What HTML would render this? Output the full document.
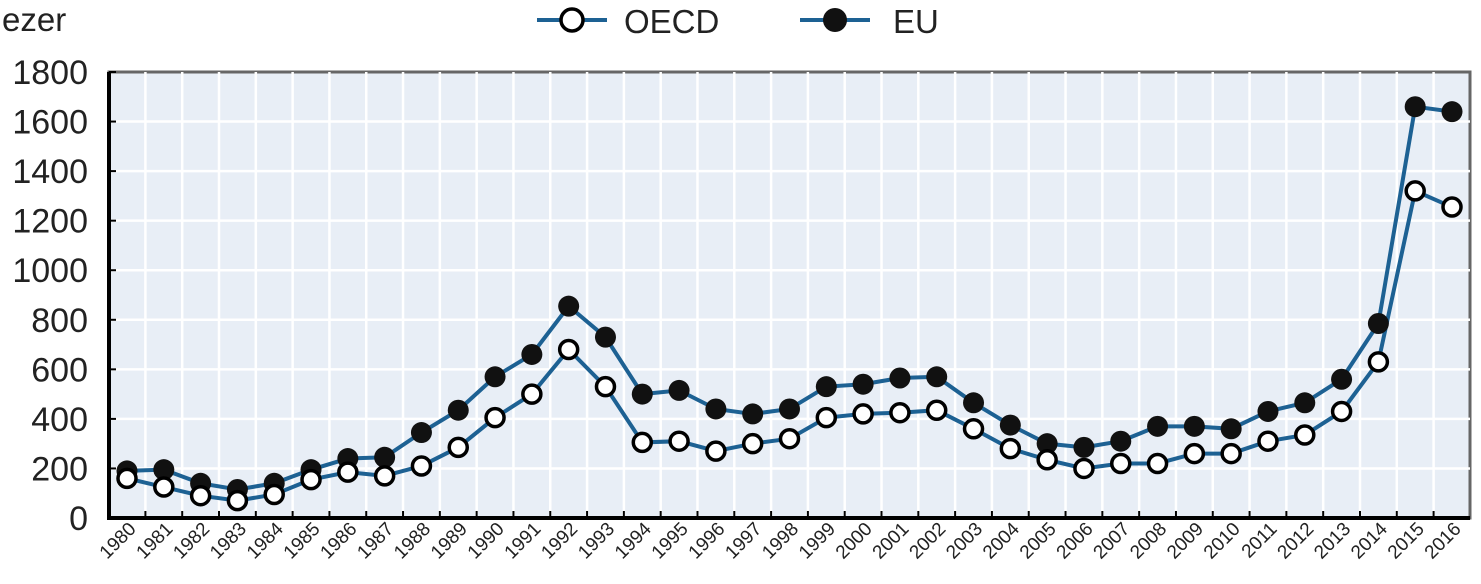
<!DOCTYPE html>
<html><head><meta charset="utf-8"><style>body{margin:0;background:#fff}svg{display:block}text{font-family:"Liberation Sans",sans-serif;fill:#222}</style></head>
<body>
<svg id="s" width="1481" height="584" xmlns="http://www.w3.org/2000/svg">
<text x="2" y="31" font-size="33">ezer</text>
<line x1="537" y1="20" x2="607" y2="20" stroke="#1d6193" stroke-width="4"/><circle cx="572" cy="20" r="11" fill="#fff" stroke="#000" stroke-width="3.5"/>
<text x="624" y="33" font-size="33">OECD</text>
<line x1="800" y1="20" x2="870" y2="20" stroke="#1d6193" stroke-width="4"/><circle cx="835" cy="20" r="12" fill="#111"/>
<text x="893" y="33" font-size="33">EU</text>
<g id="g"></g>
</svg>
<script>
var L=109,R=1470,T=72,B=518,k=(B-T)/1800,x0=127,dx=(1452-127)/36;
var eu=[190,195,140,115,140,195,240,245,345,435,570,660,855,730,500,515,440,420,440,530,540,565,570,465,375,300,285,310,370,370,360,430,465,560,785,1660,1640];
var oe=[160,125,90,70,95,155,185,170,210,285,405,500,680,530,305,310,270,300,320,405,420,425,435,360,280,235,200,220,220,260,260,310,335,430,630,1320,1255];
var s='<rect x="'+L+'" y="'+T+'" width="'+(R-L)+'" height="'+(B-T)+'" fill="#e8eef6" stroke="#666" stroke-width="3"/>';
for(var v=200;v<1800;v+=200){var y=B-v*k;s+='<line x1="'+L+'" x2="'+R+'" y1="'+y+'" y2="'+y+'" stroke="#fff" stroke-width="2.5"/>';}
for(var i=0;i<36;i++){var x=x0+dx*(i+0.5);s+='<line x1="'+x+'" x2="'+x+'" y1="'+T+'" y2="'+B+'" stroke="#fff" stroke-width="2.5"/><line x1="'+x+'" x2="'+x+'" y1="'+(B-7)+'" y2="'+B+'" stroke="#000" stroke-width="2"/>';}
for(var v=0;v<=1800;v+=200){var y=B-v*k;s+='<text x="88" y="'+(y+12)+'" font-size="34" text-anchor="end">'+v+'</text><line x1="'+L+'" x2="'+(L+7)+'" y1="'+y+'" y2="'+y+'" stroke="#000" stroke-width="2"/>';}
s+='<line x1="'+L+'" x2="'+L+'" y1="'+T+'" y2="'+(B+2)+'" stroke="#000" stroke-width="4"/><line x1="'+(L-2)+'" x2="'+R+'" y1="'+B+'" y2="'+B+'" stroke="#000" stroke-width="4"/>';
function pl(d){return d.map(function(v,i){return (x0+dx*i)+','+(B-v*k)}).join(' ');}
s+='<polyline points="'+pl(oe)+'" fill="none" stroke="#1d6193" stroke-width="4"/><polyline points="'+pl(eu)+'" fill="none" stroke="#1d6193" stroke-width="4"/>';
eu.forEach(function(v,i){s+='<circle cx="'+(x0+dx*i)+'" cy="'+(B-v*k)+'" r="10.5" fill="#111"/>';});
oe.forEach(function(v,i){s+='<circle cx="'+(x0+dx*i)+'" cy="'+(B-v*k)+'" r="9" fill="#fff" stroke="#000" stroke-width="3.5"/>';});
for(var i=0;i<37;i++){var x=x0+dx*i+10,y=530;s+='<text font-size="19" text-anchor="end" transform="translate('+x+','+y+') rotate(-45)">'+(1980+i)+'</text>';}
document.getElementById('g').innerHTML=s;
</script>
</body></html>
